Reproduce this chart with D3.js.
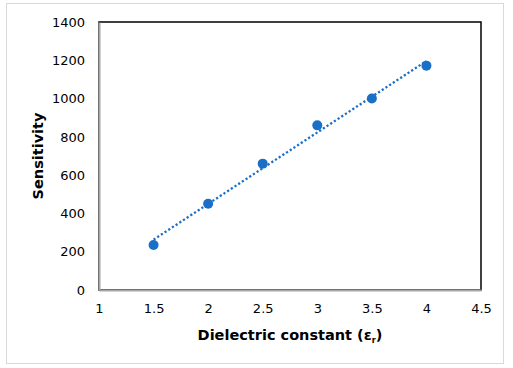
<!DOCTYPE html>
<html>
<head>
<meta charset="utf-8">
<script src="https://cdn.jsdelivr.net/npm/d3@7"></script>
<style>
  body { margin: 0; background: #fff; }
  text { font-family: "DejaVu Sans", Verdana, sans-serif; }
</style>
</head>
<body>
<div id="chart"></div>
<script>
var epsilon = [1.5, 2, 2.5, 3, 3.5, 4];
var sensitivity = [235, 451, 660, 860, 1000, 1172];
var xTicks = [1, 1.5, 2, 2.5, 3, 3.5, 4, 4.5];
var yTicks = [0, 200, 400, 600, 800, 1000, 1200, 1400];

var W = 513, H = 368;
var margin = { top: 22, right: 32, bottom: 78, left: 99 },
    width = W - margin.left - margin.right,
    height = H - margin.top - margin.bottom;

var blue = "#1a6fc7";

var svg = d3.select("#chart").append("svg")
    .attr("width", W)
    .attr("height", H);

// outer chart frame
svg.append("rect")
    .attr("x", 6.5).attr("y", 3.5)
    .attr("width", 497).attr("height", 360)
    .attr("fill", "#fff")
    .attr("stroke", "#d9d9d9");

var g = svg.append("g")
    .attr("transform", "translate(" + margin.left + "," + margin.top + ")");

var x = d3.scaleLinear().domain([1, 4.5]).range([0, width]);
var y = d3.scaleLinear().domain([0, 1400]).range([height, 0]);

// plot area border (top/right black)
g.append("rect")
    .attr("x", 0).attr("y", 0)
    .attr("width", width).attr("height", height)
    .attr("fill", "none")
    .attr("stroke", "#000")
    .attr("stroke-width", 1.5);

var xAxis = g.append("g")
    .attr("transform", "translate(0," + height + ")")
    .call(d3.axisBottom(x).tickValues(xTicks).tickSize(0).tickPadding(14)
        .tickFormat(function(d) { return d; }));

var yAxis = g.append("g")
    .call(d3.axisLeft(y).tickValues(yTicks).tickSize(0).tickPadding(14)
        .tickFormat(function(d) { return d; }));

[xAxis, yAxis].forEach(function(a) {
    a.select(".domain").attr("stroke", "#a6a6a6").attr("stroke-width", 2);
    a.selectAll("text").attr("font-size", 13).attr("fill", "#000")
        .style("font-family", "DejaVu Sans, Verdana, sans-serif");
});

// linear trendline from data
var n = epsilon.length;
var mx = d3.mean(epsilon), my = d3.mean(sensitivity);
var sxy = 0, sxx = 0;
for (var i = 0; i < n; i++) {
    sxy += (epsilon[i] - mx) * (sensitivity[i] - my);
    sxx += (epsilon[i] - mx) * (epsilon[i] - mx);
}
var slope = sxy / sxx, icpt = my - slope * mx;
var x0 = d3.min(epsilon), x1 = d3.max(epsilon);

g.append("line")
    .attr("x1", x(x0)).attr("y1", y(icpt + slope * x0))
    .attr("x2", x(x1)).attr("y2", y(icpt + slope * x1))
    .attr("stroke", blue)
    .attr("stroke-width", 2.3)
    .attr("stroke-dasharray", "2.2,2.2");

g.selectAll("circle")
    .data(epsilon)
    .enter()
    .append("circle")
    .attr("cx", function(d) { return x(d); })
    .attr("cy", function(d, i) { return y(sensitivity[i]); })
    .attr("r", 5)
    .attr("fill", blue);

// axis titles
var xt = svg.append("text")
    .attr("x", margin.left + width / 2)
    .attr("y", 340)
    .attr("text-anchor", "middle")
    .attr("font-size", 14.5)
    .attr("font-weight", "bold");
xt.append("tspan").text("Dielectric constant (ε");
xt.append("tspan").attr("font-size", 8).attr("dy", 3).text("r");
xt.append("tspan").attr("dy", -3).text(")");

svg.append("text")
    .attr("transform", "translate(43," + (margin.top + height / 2) + ") rotate(-90)")
    .attr("text-anchor", "middle")
    .attr("font-size", 14.5)
    .attr("font-weight", "bold")
    .text("Sensitivity");
</script>
</body>
</html>
